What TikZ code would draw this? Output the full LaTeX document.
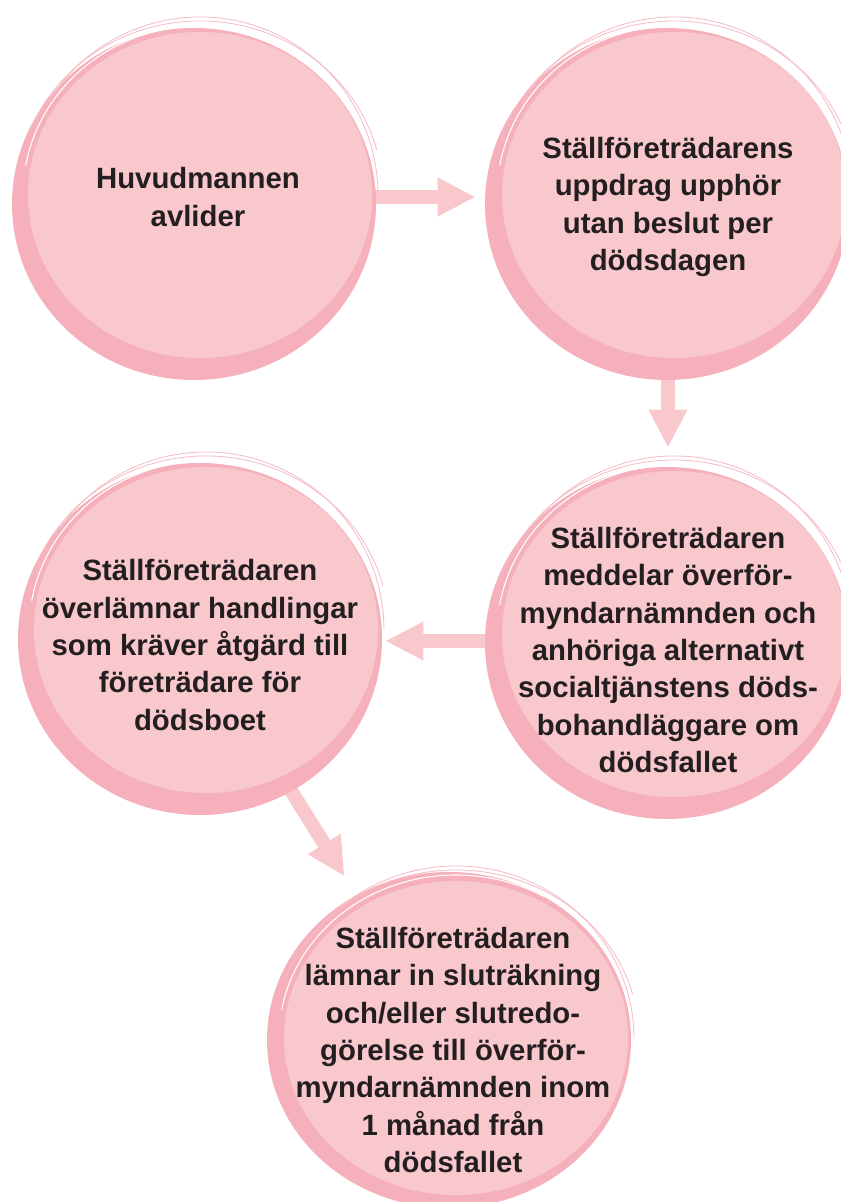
\documentclass[tikz,border=0pt]{standalone}
\usepackage{fontspec}
\newfontfamily\stepfont{Liberation Sans}
\usetikzlibrary{arrows.meta,backgrounds,calc}
\definecolor{fillpink}{RGB}{249,200,204}
\definecolor{ringpink}{RGB}{245,176,187}
\definecolor{sketchpink}{RGB}{246,186,195}
\definecolor{textblack}{RGB}{35,31,32}

\begin{document}
\begin{tikzpicture}[x=0.75pt, y=0.75pt,
    stepnode/.style={circle, minimum size=255pt, inner sep=0pt},
    steptext/.style={align=center, text=textblack, font=\stepfont\bfseries\fontsize{22}{28}\selectfont},
    flowarrow/.style={draw=fillpink, line width=10.5pt, -{Triangle[width=27pt,length=28.5pt]}},
    sketchline/.style={draw=sketchpink, line width=0.6pt}]
  \useasboundingbox (0,0) rectangle (840,1202);
  % steps
  \node[stepnode, label={[steptext]center:Huvudmannen\\avlider}] (dies) at (198,1005) {};
  \node[stepnode, label={[steptext]center:Ställföreträdarens\\uppdrag upphör\\utan beslut per\\dödsdagen}] (ends) at (668,995) {};
  \node[stepnode, label={[steptext]center:Ställföreträdaren\\meddelar överför-\\myndarnämnden och\\anhöriga alternativt\\socialtjänstens döds-\\bohandläggare om\\dödsfallet}] (notify) at (668,552) {};
  \node[stepnode, label={[steptext]center:Ställföreträdaren\\överlämnar handlingar\\som kräver åtgärd till\\företrädare för\\dödsboet}] (handover) at (200,557) {};
  \node[stepnode, label={[steptext]center:Ställföreträdaren\\lämnar in sluträkning\\och/eller slutredo-\\görelse till överför-\\myndarnämnden inom\\1 månad från\\dödsfallet}] (report) at (453,152) {};
  \begin{scope}[on background layer]
    \fill[white] (0,0) rectangle (840,1202);
    % arrows
    \draw[flowarrow, shorten >=16.5pt] (dies.east) -- (dies.east -| ends.west);
    \draw[flowarrow, shorten >=24pt] (ends.south) -- (ends.south |- notify.north);
    \draw[flowarrow, shorten >=11.25pt] ($(notify.west)+(0,9)$) -- ($(notify.west -| handover.east)+(0,9)$);
    \draw[flowarrow, shorten >=26pt] (handover) -- (report);
    % circles
    \foreach \n/\lx/\ly/\lr/\dx/\dy/\dr in {dies/2/2/163/-4/-7/176, ends/6/12/163/-1/3/176, notify/6/16/163/-1/7/176, handover/6/15/163/0/6/176, report/3/12/157/-4/10/168}{
      \fill[ringpink] ([shift={(\dx,\dy)}]\n.center) ellipse[x radius=182, y radius=\dr];
      \fill[fillpink] ([shift={(\lx,\ly)}]\n.center) ellipse[x radius=172, y radius=\lr];
      \draw[white, line width=0.8pt] ([shift={(\lx,\ly)}]\n.center) ++(170:177 and \lr+6) arc[start angle=170, end angle=60, x radius=177, y radius=\lr+6];
      \draw[sketchline] ([shift={(\lx,\ly)}]\n.center) ++(150:178 and \lr+15) arc[start angle=150, end angle=0, x radius=178, y radius=\lr+15];
      \draw[sketchline] ([shift={(\lx,\ly)}]\n.center) ++(160:183 and \lr+11) arc[start angle=160, end angle=15, x radius=183, y radius=\lr+11];
    }
  \end{scope}
\end{tikzpicture}
\end{document}
